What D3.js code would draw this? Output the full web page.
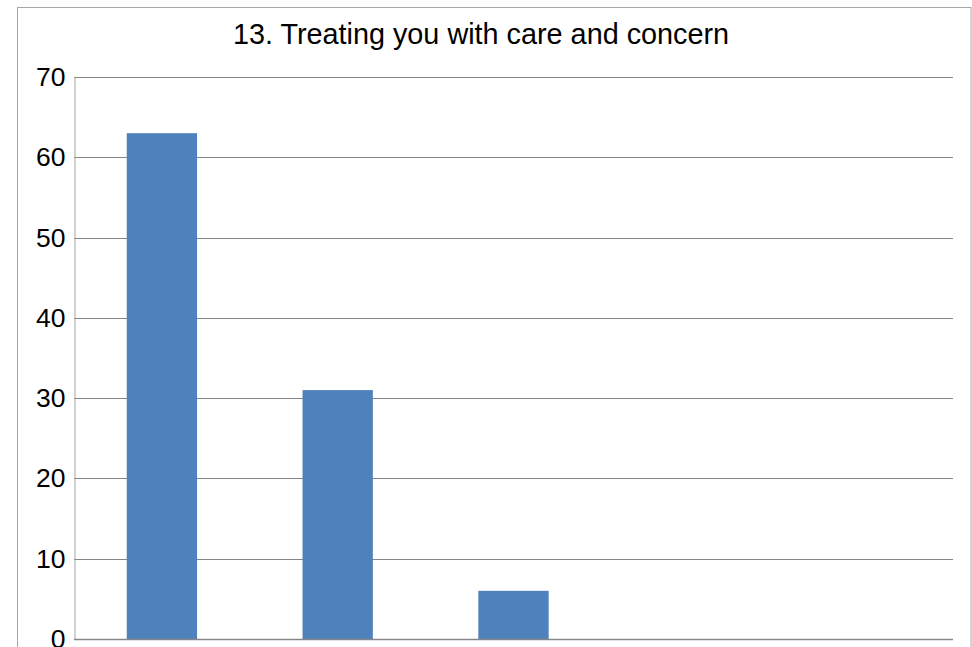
<!DOCTYPE html>
<html>
<head>
<meta charset="utf-8">
<script src="https://d3js.org/d3.v7.min.js"></script>
<style>
  html, body { margin: 0; padding: 0; background: #fff; }
  svg { display: block; }
</style>
</head>
<body>
<script>
const title = "13. Treating you with care and concern";
const categories = ["1", "2", "3", "4", "5"];
const values = [63, 31, 6, 0, 0];
const yTicks = [0, 10, 20, 30, 40, 50, 60, 70];

const W = 972, H = 647;
const margin = { left: 74, right: 19, top: 77, bottom: 8 };
const plotBottom = 639;

const svg = d3.select("body").append("svg").attr("width", W).attr("height", H);

// outer chart border
svg.append("rect")
  .attr("x", 17.5).attr("y", 7.5)
  .attr("width", 953.5).attr("height", 700)
  .attr("fill", "#fff").attr("stroke", "#a6a6a6").attr("stroke-width", 1);

const x = d3.scaleBand()
  .domain(categories)
  .range([margin.left, W - margin.right])
  .paddingInner(0.6)
  .paddingOuter(0.3);

const y = d3.scaleLinear().domain([0, 70]).range([plotBottom, margin.top]);

// gridlines
svg.append("g").selectAll("line")
  .data(yTicks.filter(d => d > 0))
  .join("line")
  .attr("x1", margin.left).attr("x2", W - margin.right)
  .attr("y1", d => Math.round(y(d)) + 0.5).attr("y2", d => Math.round(y(d)) + 0.5)
  .attr("stroke", "#868686").attr("stroke-width", 1);

// bars
svg.append("g").selectAll("rect")
  .data(values)
  .join("rect")
  .attr("x", (d, i) => x(categories[i]))
  .attr("width", x.bandwidth())
  .attr("y", d => y(d))
  .attr("height", d => plotBottom - y(d))
  .attr("fill", "#4f81bd");

// y axis
const yAxis = d3.axisLeft(y).tickValues(yTicks).tickSize(0).tickPadding(9);
const gy = svg.append("g")
  .attr("transform", `translate(${margin.left + 0.5},0)`)
  .call(yAxis);
gy.select(".domain").attr("stroke", "#a6a6a6");
gy.selectAll("text")
  .attr("font-family", "Liberation Sans, Arial, sans-serif")
  .attr("font-size", 26.5)
  .attr("fill", "#000");

// x axis line
svg.append("line")
  .attr("x1", margin.left).attr("x2", W - margin.right)
  .attr("y1", plotBottom + 0.5).attr("y2", plotBottom + 0.5)
  .attr("stroke", "#868686").attr("stroke-width", 1.5);

// title
svg.append("text")
  .attr("x", 481).attr("y", 44)
  .attr("text-anchor", "middle")
  .attr("font-family", "Liberation Sans, Arial, sans-serif")
  .attr("font-size", 28.8)
  .attr("fill", "#000")
  .text(title);
</script>
</body>
</html>
